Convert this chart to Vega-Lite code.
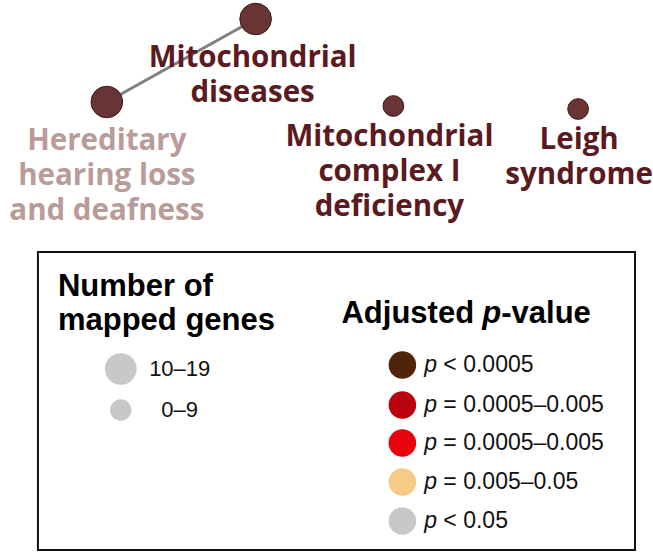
{
  "$schema": "https://vega.github.io/schema/vega-lite/v6.json",
  "width": 653,
  "height": 554,
  "padding": 0,
  "autosize": {"type": "fit", "contains": "padding"},
  "config": {"view": {"stroke": null}},
  "datasets": {
    "nodes": [
      {"name": "Mitochondrial diseases", "x": 256, "y": 19, "genes": "10–19"},
      {"name": "Hereditary hearing loss and deafness", "x": 107, "y": 102, "genes": "10–19"},
      {"name": "Mitochondrial complex I deficiency", "x": 394, "y": 106, "genes": "0–9"},
      {"name": "Leigh syndrome", "x": 579, "y": 109, "genes": "0–9"}
    ],
    "edges": [
      {"source": "Mitochondrial diseases", "target": "Hereditary hearing loss and deafness", "x": 256, "y": 19, "x2": 107, "y2": 102}
    ],
    "labels": [
      {"lines": ["Mitochondrial", "diseases"], "x": 253, "y": 58, "tone": "strong"},
      {"lines": ["Hereditary", "hearing loss", "and deafness"], "x": 107, "y": 141, "tone": "faded"},
      {"lines": ["Mitochondrial", "complex I", "deficiency"], "x": 390, "y": 137, "tone": "strong"},
      {"lines": ["Leigh", "syndrome"], "x": 580, "y": 140, "tone": "strong"}
    ],
    "box": [{"x": 38, "y": 252, "x2": 636, "y2": 550}],
    "sizeLegend": [
      {"genes": "10–19", "x": 121, "y": 369, "lx": 180},
      {"genes": "0–9", "x": 121, "y": 410, "lx": 180}
    ],
    "colorLegend": [
      {"cls": "c1", "rest": "< 0.0005", "x": 403, "y": 365, "lx": 425},
      {"cls": "c2", "rest": "= 0.0005–0.005", "x": 403, "y": 405, "lx": 425},
      {"cls": "c3", "rest": "= 0.0005–0.005", "x": 403, "y": 443, "lx": 425},
      {"cls": "c4", "rest": "= 0.005–0.05", "x": 403, "y": 482, "lx": 425},
      {"cls": "c5", "rest": "< 0.05", "x": 403, "y": 521, "lx": 425}
    ],
    "titles": [
      {"part": "Number of", "kind": "bold", "x": 58, "y": 287},
      {"part": "mapped genes", "kind": "bold", "x": 58, "y": 321},
      {"part": "Adjusted ", "kind": "bold", "x": 342, "y": 314},
      {"part": "p", "kind": "bolditalic", "x": 483, "y": 314},
      {"part": "-value", "kind": "bold", "x": 502, "y": 314}
    ]
  },
  "encoding": {
    "x": {"field": "x", "type": "quantitative", "scale": {"domain": [0, 653], "nice": false, "zero": false}, "axis": null},
    "y": {"field": "y", "type": "quantitative", "scale": {"domain": [0, 554], "nice": false, "zero": false, "reverse": true}, "axis": null}
  },
  "layer": [
    {
      "data": {"name": "box"},
      "mark": {"type": "rect", "fill": null, "fillOpacity": 0, "stroke": "#111111", "strokeWidth": 2},
      "encoding": {"x2": {"field": "x2"}, "y2": {"field": "y2"}}
    },
    {
      "data": {"name": "edges"},
      "mark": {"type": "rule", "color": "#808080", "strokeWidth": 3},
      "encoding": {"x2": {"field": "x2"}, "y2": {"field": "y2"}}
    },
    {
      "data": {"name": "nodes"},
      "mark": {"type": "circle", "fill": "#693434", "stroke": "#3a1818", "strokeWidth": 1, "opacity": 1},
      "encoding": {
        "size": {"field": "genes", "type": "ordinal", "scale": {"domain": ["0–9", "10–19"], "range": [430, 1000]}, "legend": null}
      }
    },
    {
      "data": {"name": "labels"},
      "mark": {"type": "text", "font": "Open Sans", "fontWeight": "bold", "fontSize": 29.5, "lineHeight": 35, "align": "center", "baseline": "middle"},
      "encoding": {
        "text": {"field": "lines"},
        "color": {"field": "tone", "type": "nominal", "scale": {"domain": ["strong", "faded"], "range": ["#5a1a20", "#b99b9a"]}, "legend": null}
      }
    },
    {
      "data": {"name": "sizeLegend"},
      "mark": {"type": "circle", "fill": "#c8c8c8", "opacity": 1},
      "encoding": {
        "size": {"field": "genes", "type": "ordinal", "scale": {"domain": ["0–9", "10–19"], "range": [460, 1000]}, "legend": null}
      }
    },
    {
      "data": {"name": "sizeLegend"},
      "mark": {"type": "text", "font": "Liberation Sans", "fontSize": 22, "align": "center", "baseline": "middle", "color": "#111111"},
      "encoding": {"x": {"field": "lx", "type": "quantitative"}, "text": {"field": "genes"}}
    },
    {
      "data": {"name": "colorLegend"},
      "mark": {"type": "circle", "size": 760, "opacity": 1},
      "encoding": {
        "fill": {"field": "cls", "type": "nominal", "scale": {"domain": ["c1", "c2", "c3", "c4", "c5"], "range": ["#4f240b", "#b9040f", "#e8040d", "#f5cb86", "#c8c8c8"]}, "legend": null}
      }
    },
    {
      "data": {"name": "colorLegend"},
      "mark": {"type": "text", "font": "Liberation Sans", "fontSize": 23, "fontStyle": "italic", "align": "left", "baseline": "middle", "color": "#111111"},
      "encoding": {"x": {"field": "lx", "type": "quantitative"}, "text": {"value": "p"}}
    },
    {
      "data": {"name": "colorLegend"},
      "mark": {"type": "text", "font": "Liberation Sans", "fontSize": 23, "align": "left", "baseline": "middle", "dx": 19, "color": "#111111"},
      "encoding": {"x": {"field": "lx", "type": "quantitative"}, "text": {"field": "rest"}}
    },
    {
      "data": {"name": "titles"},
      "transform": [{"filter": "datum.kind === 'bold'"}],
      "mark": {"type": "text", "font": "Liberation Sans", "fontWeight": "bold", "fontSize": 31, "align": "left", "baseline": "middle", "color": "#000000"},
      "encoding": {"text": {"field": "part"}}
    },
    {
      "data": {"name": "titles"},
      "transform": [{"filter": "datum.kind === 'bolditalic'"}],
      "mark": {"type": "text", "font": "Liberation Sans", "fontWeight": "bold", "fontStyle": "italic", "fontSize": 31, "align": "left", "baseline": "middle", "color": "#000000"},
      "encoding": {"text": {"field": "part"}}
    }
  ],
  "resolve": {"scale": {"color": "independent", "fill": "independent", "size": "independent"}}
}
